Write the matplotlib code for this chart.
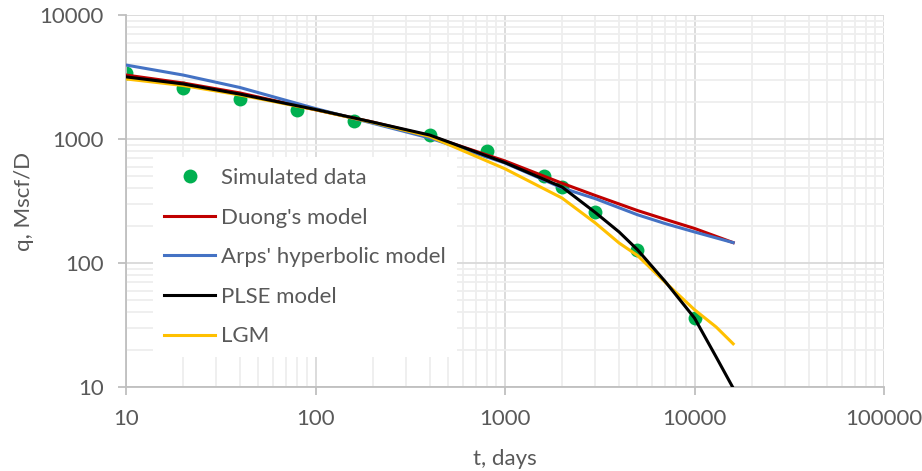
import matplotlib.pyplot as plt
from matplotlib.ticker import LogLocator, NullFormatter, FixedLocator, FixedFormatter

# simulated production data
t_data = [10, 20, 40, 80, 160, 400, 800, 1600, 2000, 3000, 5000, 10000]
q_data = [3400, 2600, 2100, 1700, 1400, 1080, 800, 500, 410, 260, 128, 36]

# model curves
t_duong = [10, 20, 40, 100, 200, 400, 1000, 2000, 3000, 5000, 7000, 10000, 16000]
q_duong = [3280, 2830, 2350, 1720, 1370, 1060, 665, 440, 350, 265, 225, 190, 146]

t_arps = [10, 20, 40, 100, 200, 400, 1000, 2000, 3000, 5000, 7000, 10000, 16000]
q_arps = [3950, 3280, 2600, 1760, 1340, 1019, 640, 403, 330, 245, 208, 178, 146]

t_plse = [10, 20, 40, 100, 200, 400, 1000, 2000, 3000, 4000, 5000, 7000, 10000, 13000, 16000]
q_plse = [3170, 2780, 2300, 1730, 1370, 1077, 645, 410, 255, 178, 128, 71, 36, 17.5, 9.8]

t_lgm = [10, 20, 40, 100, 200, 400, 1000, 2000, 3000, 4000, 5000, 7000, 10000, 13000, 16000]
q_lgm = [3050, 2700, 2264, 1720, 1360, 1050, 575, 334, 210, 145, 115, 70, 42, 30.5, 22.3]

plt.rcParams['font.family'] = ['Lato', 'DejaVu Sans']
grey = '#595959'

fig = plt.figure(figsize=(9.22, 4.71), dpi=100)
ax = fig.add_axes([126 / 922, 1 - 387 / 471, 758 / 922, 372 / 471])

ax.plot(t_duong, q_duong, color='#C00000', lw=2.2, label="Duong's model", zorder=3)
ax.plot(t_arps, q_arps, color='#4472C4', lw=2.2, label="Arps' hyperbolic model", zorder=3)
ax.plot(t_plse, q_plse, color='black', lw=2.2, label='PLSE model', zorder=4)
ax.plot(t_lgm, q_lgm, color='#FFC000', lw=2.2, label='LGM', zorder=3)
ax.plot(t_data, q_data, 'o', color='#00B050', ms=10, mec='none', label='Simulated data', zorder=2)

ax.set_xscale('log')
ax.set_yscale('log')
ax.set_xlim(10, 100000)
ax.set_ylim(10, 10000)

ax.xaxis.set_major_locator(FixedLocator([10, 100, 1000, 10000, 100000]))
ax.xaxis.set_major_formatter(FixedFormatter(['10', '100', '1000', '10000', '100000']))
ax.yaxis.set_major_locator(FixedLocator([10, 100, 1000, 10000]))
ax.yaxis.set_major_formatter(FixedFormatter(['10', '100', '1000', '10000']))
ax.xaxis.set_minor_locator(LogLocator(base=10, subs=range(2, 10), numticks=20))
ax.yaxis.set_minor_locator(LogLocator(base=10, subs=range(2, 10), numticks=20))
ax.xaxis.set_minor_formatter(NullFormatter())
ax.yaxis.set_minor_formatter(NullFormatter())

ax.grid(which='major', color='#d9d9d9', lw=1.3, zorder=0)
ax.grid(which='minor', color='#eeeeee', lw=1.3, zorder=0)
ax.set_axisbelow(True)

for s in ['top', 'right']:
    ax.spines[s].set_visible(False)
for s in ['left', 'bottom']:
    ax.spines[s].set_color('#bfbfbf')
    ax.spines[s].set_linewidth(1.3)

ax.tick_params(which='major', length=6, width=1.3, color='#bfbfbf', labelcolor=grey, labelsize=16, pad=10)
ax.tick_params(which='minor', length=0)

ax.set_xlabel('t, days', fontsize=16, color=grey, labelpad=14)
ax.set_ylabel('q, Mscf/D', fontsize=16, color=grey, labelpad=4)

handles, labels = ax.get_legend_handles_labels()
order = [4, 0, 1, 2, 3]
leg = ax.legend([handles[i] for i in order], [labels[i] for i in order],
                loc='upper left', bbox_to_anchor=(153 / 922, 1 - 157 / 471),
                bbox_transform=fig.transFigure, fontsize=16, frameon=True,
                framealpha=1, edgecolor='none', fancybox=False,
                handlelength=2.3, handletextpad=0.25, labelspacing=0.88,
                borderpad=0.5, borderaxespad=0, numpoints=1, labelcolor=grey)
leg.set_zorder(5)

plt.savefig('out.png', dpi=100)
